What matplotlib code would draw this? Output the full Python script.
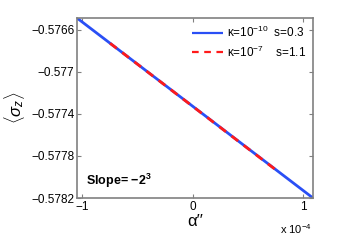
import matplotlib
matplotlib.use("Agg")
import matplotlib.pyplot as plt

alpha_blue = [-1.05e-4, 1.09e-4]
sigma_blue = [-0.57649, -0.57820]
alpha_red = [-0.75e-4, 0.75e-4]
sigma_red = [-0.57673, -0.57793]
yticks = [-0.5782, -0.5778, -0.5774, -0.577, -0.5766]
ytick_labels = ["\u22120.5782", "\u22120.5778", "\u22120.5774", "\u22120.577", "\u22120.5766"]
xticks = [-1e-4, 0, 1e-4]
xtick_labels = ["\u22121", "0", "1"]

plt.rcParams['font.family'] = ['Liberation Sans', 'DejaVu Sans']
plt.rcParams['mathtext.fontset'] = 'custom'
plt.rcParams['mathtext.rm'] = 'Liberation Sans'
plt.rcParams['mathtext.it'] = 'Liberation Sans:italic'
plt.rcParams['mathtext.bf'] = 'Liberation Sans:bold'

fig = plt.figure(figsize=(3.46, 2.46), dpi=100)
ax = fig.add_axes([0.2225, 0.1951, 0.6821, 0.7317])
gray = '#808080'
ax.plot(alpha_blue, sigma_blue, color='#2a4ff5', lw=2, solid_capstyle='butt',
        label='\u03ba=10$^{-10}$  s=0.3')
ax.plot(alpha_red, sigma_red, color='#ff1a1a', lw=2, ls=(0, (3, 2.5)),
        label='\u03ba=10$^{-7}$    s=1.1')
ax.set_xlim(alpha_blue[0], alpha_blue[1])
ax.set_ylim(sigma_blue[1], sigma_blue[0])
ax.set_yticks(yticks)
ax.set_yticklabels(ytick_labels)
ax.set_xticks(xticks)
ax.set_xticklabels(xtick_labels)
for s in ax.spines.values():
    s.set_color(gray)
    s.set_linewidth(1.2)
ax.tick_params(direction='in', length=3, width=0.8, color=gray, labelsize=8.5,
               top=True, right=True, pad=2)
ax.set_ylabel(r'$\langle\sigma_z\rangle$', fontsize=12, labelpad=3)
ax.set_xlabel("\u03b1\u2032\u2032", fontsize=12, labelpad=1)
fig.text(0.81, 0.05, r'x 10$^{-4}$', fontsize=8)
ax.text(0.04, 0.075, r'Slope= $\mathbf{-2^3}$', transform=ax.transAxes,
        fontsize=9, fontweight='bold')
leg = ax.legend(loc='upper right', frameon=False, fontsize=8.5, handlelength=2.6,
                handletextpad=0.3, borderaxespad=0.2, labelspacing=0.35)
for l in leg.get_lines():
    l.set_linewidth(1.6)
fig.savefig('out.png', dpi=100)
